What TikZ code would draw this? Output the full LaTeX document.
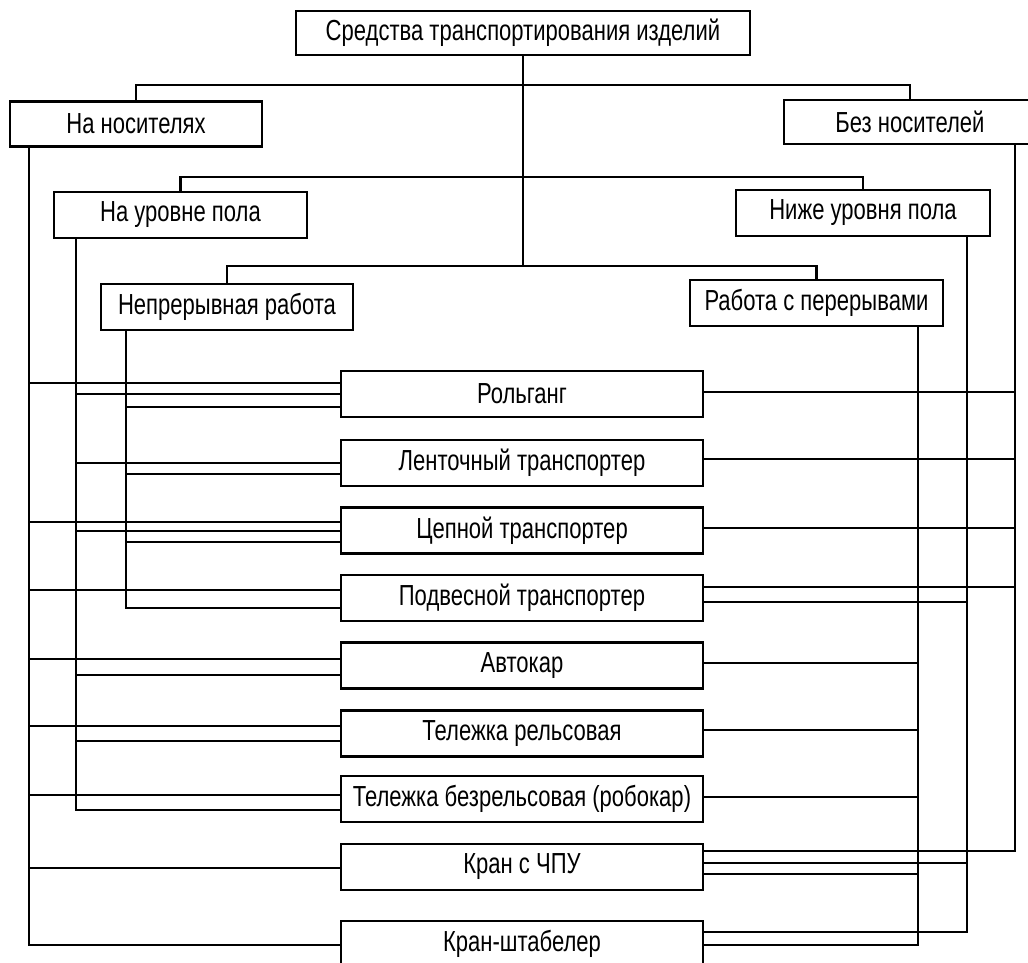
\documentclass[tikz,border=0pt]{standalone}
\usepackage{fontspec}
\setmainfont{Liberation Sans}[FakeStretch=0.76]
\begin{document}
\begin{tikzpicture}[x=1pt,y=-1pt,
  box/.style={draw, line width=2.6pt, rectangle, inner sep=0pt,
    font=\fontsize{29}{32}\selectfont},
  link/.style={line width=2.6pt, line cap=rect}]
\useasboundingbox (0,0) rectangle (1028,963);

% classification levels
\node[box, minimum width=454, minimum height=44] (top) at (523,33) {Средства транспортирования изделий};
\node[box, minimum width=252, minimum height=45] (nos) at (136,124) {На носителях};
\node[box, minimum width=252, minimum height=44] (bez) at (910,122) {Без носителей};
\node[box, minimum width=253, minimum height=46] (pol) at (180.5,215) {На уровне пола};
\node[box, minimum width=254, minimum height=46] (niz) at (863,213) {Ниже уровня пола};
\node[box, minimum width=252, minimum height=46] (nep) at (227,307) {Непрерывная работа};
\node[box, minimum width=253, minimum height=46] (per) at (816.5,303) {Работа с перерывами};

% transport means
\tikzset{item/.style={box, minimum width=362, minimum height=46}}
\node[item] (r1) at (522,394)   {Рольганг};
\node[item] (r2) at (522,463)   {Ленточный транспортер};
\node[item] (r3) at (522,530.5) {Цепной транспортер};
\node[item] (r4) at (522,598)   {Подвесной транспортер};
\node[item] (r5) at (522,665.5) {Автокар};
\node[item] (r6) at (522,733.5) {Тележка рельсовая};
\node[item] (r7) at (522,799)   {Тележка безрельсовая (робокар)};
\node[item] (r8) at (522,867)   {Кран с ЧПУ};
\node[item] (r9) at (522,944)   {Кран-штабелер};

% bus levels and collector lines
\coordinate (b1) at (0,85);
\coordinate (b2) at (0,177);
\coordinate (b3) at (0,266);
\coordinate (vA) at (29,0);
\coordinate (vB) at (76,0);
\coordinate (vC) at (126,0);
\coordinate (vD) at (918,0);
\coordinate (vE) at (967,0);
\coordinate (vF) at (1015,0);

% tree at the top
\draw[link] (top.south) -- (top.south |- b3);
\draw[link] (nos.north) -- (nos.north |- b1) -- (bez.north |- b1) -- (bez.north);
\draw[link] (pol.north) -- (pol.north |- b2) -- (niz.north |- b2) -- (niz.north);
\draw[link] (nep.north) -- (nep.north |- b3) -- (per.north |- b3) -- (per.north);

% collector lines
\draw[link] (vA |- nos.south) -- (vA |- 0,945);
\draw[link] (vB |- pol.south) -- (vB |- 0,810);
\draw[link] (vC |- nep.south) -- (vC |- 0,608);
\draw[link] (vD |- per.south) -- (vD |- 0,945);
\draw[link] (vE |- niz.south) -- (vE |- 0,932);
\draw[link] (vF |- bez.south) -- (vF |- 0,851);

% branches on the left
\foreach \n/\yy/\v in {r1/383/vA, r1/394/vB, r1/407/vC,
    r2/463/vB, r2/474/vC,
    r3/522/vA, r3/531/vB, r3/542/vC,
    r4/590/vA, r4/608/vC,
    r5/659/vA, r5/675/vB,
    r6/726/vA, r6/741/vB,
    r7/795/vA, r7/810/vB,
    r8/868/vA,
    r9/945/vA}
  \draw[link] (\n.west |- 0,\yy) -- (\v |- 0,\yy);

% branches on the right
\foreach \n/\yy/\v in {r1/392/vF, r2/459/vF, r3/528/vF,
    r4/587/vF, r4/602/vE,
    r5/663/vD, r6/730/vD, r7/797/vD,
    r8/851/vF, r8/863/vE, r8/874/vD,
    r9/932/vE, r9/945/vD}
  \draw[link] (\n.east |- 0,\yy) -- (\v |- 0,\yy);
\end{tikzpicture}
\end{document}
